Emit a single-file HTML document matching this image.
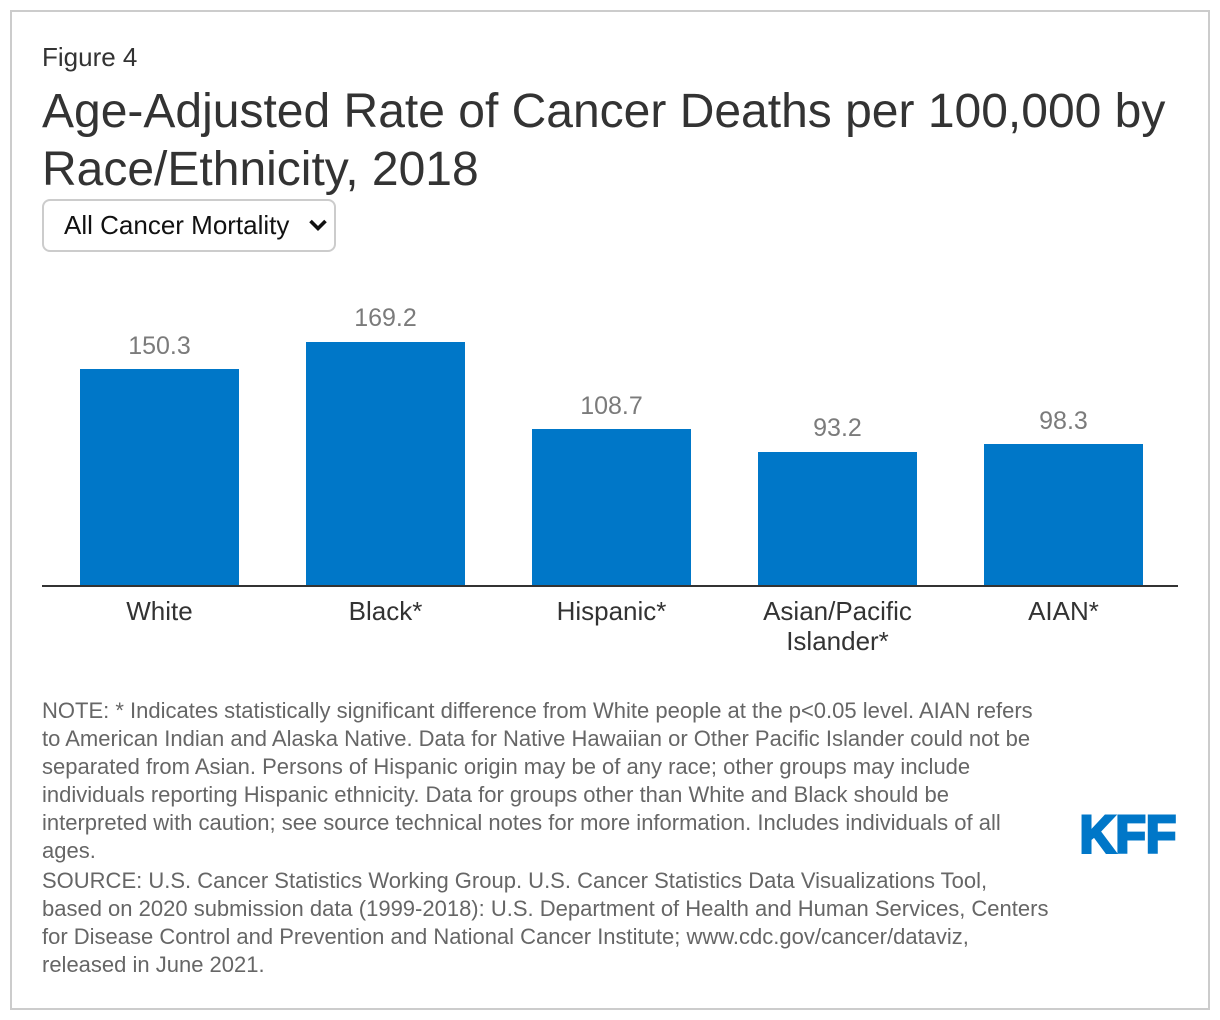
<!DOCTYPE html>
<html lang="en">
<head>
<meta charset="utf-8">
<title>Figure 4</title>
<style>
html,body{margin:0;padding:0;background:#fff;}
body{width:1220px;height:1020px;position:relative;overflow:hidden;font-family:"Liberation Sans",Arial,sans-serif;}
#frame{position:absolute;left:10px;top:10px;width:1196px;height:996px;border:2px solid #ccc;}
.t{position:absolute;white-space:nowrap;}
#fig{left:42px;top:42px;font-size:26px;line-height:30px;color:#333;}
.title{left:42px;font-size:48px;line-height:58px;color:#333;}
#sel{position:absolute;left:42px;top:199px;width:294px;height:53px;box-sizing:border-box;border:2px solid #ccc;border-radius:8px;background:#fff;color:#111;font:26px "Liberation Sans",Arial,sans-serif;padding:0 0 2px 20px;appearance:none;-webkit-appearance:none;outline:none;}
#chev{position:absolute;left:309px;top:218px;pointer-events:none;}
#chart{position:absolute;left:0;top:0;}
.note{left:42px;font-size:22px;line-height:28px;color:#666;}
</style>
</head>
<body>
<div id="frame"></div>
<div class="t" id="fig">Figure 4</div>
<div class="t title" style="top:83px">Age-Adjusted Rate of Cancer Deaths per 100,000 by</div>
<div class="t title" style="top:141px">Race/Ethnicity, 2018</div>
<select id="sel"><option>All Cancer Mortality</option></select>
<svg id="chev" width="18" height="14" viewBox="0 0 18 14"><path d="M1.5 3 L9 10.5 L16.5 3" fill="none" stroke="#111" stroke-width="3.6"/></svg>
<svg id="chart" width="1220" height="680"></svg>
<div id="notes">
<div class="t note" style="top:697px">NOTE: * Indicates statistically significant difference from White people at the p&lt;0.05 level. AIAN refers</div>
<div class="t note" style="top:725px">to American Indian and Alaska Native. Data for Native Hawaiian or Other Pacific Islander could not be</div>
<div class="t note" style="top:753px">separated from Asian. Persons of Hispanic origin may be of any race; other groups may include</div>
<div class="t note" style="top:781px">individuals reporting Hispanic ethnicity. Data for groups other than White and Black should be</div>
<div class="t note" style="top:809px">interpreted with caution; see source technical notes for more information. Includes individuals of all</div>
<div class="t note" style="top:837px">ages.</div>
<div class="t note" style="top:867px">SOURCE: U.S. Cancer Statistics Working Group. U.S. Cancer Statistics Data Visualizations Tool,</div>
<div class="t note" style="top:895px">based on 2020 submission data (1999-2018): U.S. Department of Health and Human Services, Centers</div>
<div class="t note" style="top:923px">for Disease Control and Prevention and National Cancer Institute; www.cdc.gov/cancer/dataviz,</div>
<div class="t note" style="top:951px">released in June 2021.</div>
</div>
<svg style="position:absolute;left:1070px;top:800px" width="120" height="70"><text x="9.6" y="52.5" font-family="Liberation Sans, Arial, sans-serif" font-weight="700" font-size="53" fill="#0077c8" stroke="#0077c8" stroke-width="3" textLength="96.6" lengthAdjust="spacingAndGlyphs">KFF</text></svg>
<script>
const categories = [["White"], ["Black*"], ["Hispanic*"], ["Asian/Pacific", "Islander*"], ["AIAN*"]];
const seriesValues = [150.3, 169.2, 108.7, 93.2, 98.3];

const NS = 'http://www.w3.org/2000/svg';
const chart = document.getElementById('chart');
const baseY = 586.3;
const yScale = v => v * 1.445;
const xScale = i => 159.5 + i * 226;
const barW = 159;

function add(tag, attrs, txt) {
  const e = document.createElementNS(NS, tag);
  for (const k in attrs) e.setAttribute(k, attrs[k]);
  if (txt !== undefined) e.textContent = txt;
  chart.appendChild(e);
  return e;
}
seriesValues.forEach((v, i) => {
  const h = yScale(v);
  const bar = add('rect', {x: xScale(i) - barW / 2, y: Math.round(baseY - h), width: barW, height: Math.round(h), fill: '#0077c8', 'shape-rendering': 'crispEdges'});
  
  
  const val = add('text', {x: xScale(i), y: Math.round(baseY - h - 15.6), 'text-anchor': 'middle', 'font-size': 25, fill: '#7b7b7b', 'font-family': 'Liberation Sans, Arial, sans-serif'}, v.toFixed(1));
  
  
  categories[i].forEach((line, j) => {
    const lab = add('text', {x: xScale(i), y: 620 + j * 30, 'text-anchor': 'middle', 'font-size': 26, fill: '#333', 'font-family': 'Liberation Sans, Arial, sans-serif'}, line);
    
    
  });
});
const axis = add('rect', {x: 42, y: 585, width: 1136, height: 2, fill: '#333'});


</script>
</body>
</html>
